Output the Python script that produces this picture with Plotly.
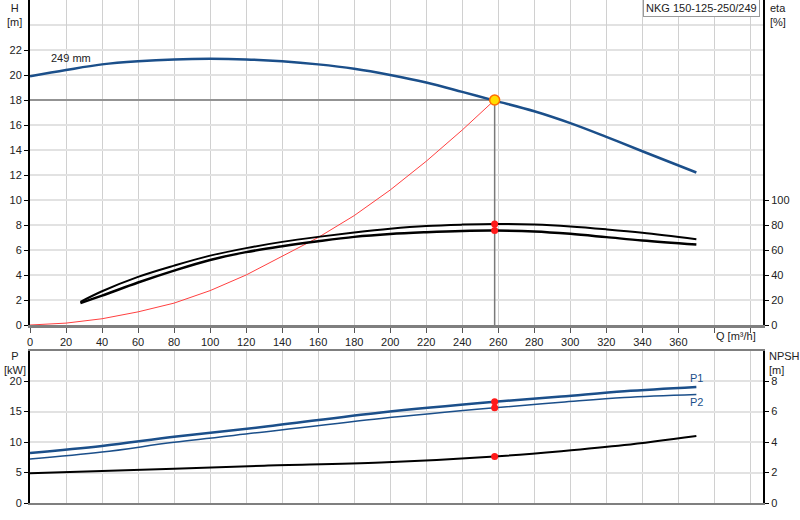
import plotly.graph_objects as go

# pump curve data
q_head = [0, 20, 40, 60, 80, 100, 120, 140, 160, 180, 200, 220, 240, 258, 280, 300, 320, 340, 370]
head = [19.9, 20.4, 20.85, 21.1, 21.25, 21.3, 21.25, 21.1, 20.85, 20.5, 20.0, 19.4, 18.65, 17.95, 17.1, 16.15, 15.05, 13.9, 12.2]

q_system = [0, 20, 40, 60, 80, 100, 120, 140, 160, 180, 200, 220, 240, 258]
h_system = [0, 0.15, 0.5, 1.05, 1.75, 2.75, 4.0, 5.5, 7.0, 8.75, 10.8, 13.1, 15.6, 18.0]

q_eta = [28, 40, 60, 80, 100, 120, 140, 160, 180, 200, 220, 240, 258, 280, 300, 320, 340, 370]
eta_upper = [18.5, 27, 38.5, 47.5, 55.5, 61.5, 66.5, 70.5, 74, 77, 79.2, 80.3, 80.8, 80.3, 78.8, 76.5, 73.8, 68.6]
eta_lower = [17.5, 23.5, 34, 43.5, 52, 58.3, 63, 67, 70.5, 72.8, 74.2, 75.2, 75.5, 74.8, 72.9, 70.3, 67.6, 64.3]

q_power = [0, 40, 80, 130, 195, 258, 295, 330, 370]
p1 = [8.2, 9.35, 10.85, 12.5, 14.85, 16.6, 17.45, 18.3, 19.0]
p2 = [7.2, 8.35, 9.95, 11.65, 13.85, 15.6, 16.5, 17.3, 17.8]
npsh = [1.95, 2.1, 2.25, 2.45, 2.65, 3.05, 3.4, 3.8, 4.4]

duty_q = 258
duty_h = 18.0
duty_eta = [80.8, 75.5]
duty_p = [16.6, 15.6]
duty_npsh = 3.05

x_ticks = list(range(0, 401, 20))
x_labels = [str(v) if v <= 360 else "" for v in x_ticks]

W, H = 800, 520
L, R, T, B = 30, 37, 0, 17
ph = H - T - B
pw = W - L - R


def px(x):
    return (x - L) / pw


def py(y):
    return (H - B - y) / ph


blue = "#1b4f8a"
font = "Liberation Sans, Arial, sans-serif"

fig = go.Figure()
fig.add_trace(go.Scatter(x=[0, duty_q, duty_q], y=[duty_h, duty_h, 0], mode="lines",
                         line=dict(color="#7a7a7a", width=1.5), xaxis="x", yaxis="y"))
fig.add_trace(go.Scatter(x=q_system, y=h_system, mode="lines",
                         line=dict(color="#ff4040", width=1), xaxis="x", yaxis="y"))
fig.add_trace(go.Scatter(x=q_head, y=head, mode="lines", line=dict(color=blue, width=2.5, shape="spline"),
                         xaxis="x", yaxis="y"))
fig.add_trace(go.Scatter(x=q_eta, y=eta_upper, mode="lines", line=dict(color="black", width=2, shape="spline"),
                         xaxis="x", yaxis="y2"))
fig.add_trace(go.Scatter(x=q_eta, y=eta_lower, mode="lines", line=dict(color="black", width=2.5, shape="spline"),
                         xaxis="x", yaxis="y2"))
fig.add_trace(go.Scatter(x=[duty_q, duty_q], y=duty_eta, mode="markers",
                         marker=dict(color="#ff1a1a", size=7), xaxis="x", yaxis="y2"))
fig.add_trace(go.Scatter(x=[duty_q], y=[duty_h], mode="markers",
                         marker=dict(color="#ffdd00", size=10, line=dict(color="#ff6a00", width=1.5)),
                         xaxis="x", yaxis="y"))

fig.add_trace(go.Scatter(x=q_power, y=p1, mode="lines", line=dict(color=blue, width=2.5, shape="spline"),
                         xaxis="x2", yaxis="y3"))
fig.add_trace(go.Scatter(x=q_power, y=p2, mode="lines", line=dict(color=blue, width=1.5, shape="spline"),
                         xaxis="x2", yaxis="y3"))
fig.add_trace(go.Scatter(x=q_power, y=npsh, mode="lines", line=dict(color="black", width=2, shape="spline"),
                         xaxis="x2", yaxis="y4"))
fig.add_trace(go.Scatter(x=[duty_q, duty_q], y=duty_p, mode="markers",
                         marker=dict(color="#ff1a1a", size=7), xaxis="x2", yaxis="y3"))
fig.add_trace(go.Scatter(x=[duty_q], y=[duty_npsh], mode="markers",
                         marker=dict(color="#ff1a1a", size=7), xaxis="x2", yaxis="y4"))

top = [py(325), 1]
bottom = [0, py(350.5)]
xgrid = dict(showgrid=True, gridcolor="#d0d0d0", gridwidth=1, zeroline=False, automargin=False)
yline = dict(ticks="outside", ticklen=4, tickcolor="black", showline=True, linecolor="black",
             linewidth=2, zeroline=False, automargin=False)

fig.update_layout(
    width=W, height=H, margin=dict(l=L, r=R, t=T, b=B),
    plot_bgcolor="white", paper_bgcolor="white", showlegend=False,
    font=dict(family=font, size=11, color="#222"),
    xaxis=dict(domain=[0, 1], range=[0, 407], anchor="y", tickvals=x_ticks, ticktext=x_labels,
               ticks="outside", ticklen=5, tickcolor="#555", showline=True, linecolor="#7f7f7f",
               linewidth=2.5, **xgrid),
    xaxis2=dict(domain=[0, 1], range=[0, 407], anchor="y3", tickvals=x_ticks, showticklabels=False,
                ticks="", showline=True, mirror=True, linecolor="#7f7f7f", linewidth=2, **xgrid),
    yaxis=dict(domain=top, range=[0, 26], tickvals=list(range(0, 23, 2)),
               showgrid=True, gridcolor="#e2e2e2", gridwidth=2,
               minor=dict(dtick=2, tick0=0, showgrid=True, gridcolor="#e2e2e2", gridwidth=2, ticks=""),
               **yline),
    yaxis2=dict(domain=top, range=[0, 260], overlaying="y", side="right", anchor="x",
                tickvals=list(range(0, 101, 20)), showgrid=False, **yline),
    yaxis3=dict(domain=bottom, range=[0, 25], anchor="x2", tickvals=list(range(0, 21, 5)),
                showgrid=True, gridcolor="#e2e2e2", gridwidth=2,
                minor=dict(dtick=5, tick0=0, showgrid=True, gridcolor="#e2e2e2", gridwidth=2, ticks=""),
                **yline),
    yaxis4=dict(domain=bottom, range=[0, 10], overlaying="y3", side="right", anchor="x2",
                tickvals=list(range(0, 9, 2)), showgrid=False, **yline),
)

labels = [
    ("H<br>[m]", 15, 0, "center"),
    ("eta<br>[%]", 768, 0, "left"),
    ("P<br>[kW]", 15, 348, "center"),
    ("NPSH<br>[m]", 767, 348, "left"),
]
for text, x, y, anchor in labels:
    fig.add_annotation(text=text, xref="paper", yref="paper", x=px(x), y=py(y), xanchor=anchor,
                       yanchor="top", showarrow=False, align=anchor, font=dict(size=11))

fig.add_annotation(text="Q [m³/h]", xref="paper", yref="paper", x=px(758), y=py(328), xanchor="right",
                   yanchor="top", showarrow=False, font=dict(size=11))
fig.add_annotation(text="249 mm", x=23, y=21.35, xref="x", yref="y", showarrow=False, font=dict(size=11))
fig.add_annotation(text="NKG 150-125-250/249", xref="paper", yref="paper", x=px(760), y=py(-1),
                   xanchor="right", yanchor="top", showarrow=False, bgcolor="white",
                   bordercolor="#9a9a9a", borderwidth=1, borderpad=2, font=dict(size=11))
fig.add_annotation(text="P1", x=370, y=p1[-1] + 1.5, xref="x2", yref="y3", showarrow=False,
                   font=dict(size=11, color=blue))
fig.add_annotation(text="P2", x=370, y=p2[-1] - 1.3, xref="x2", yref="y3", showarrow=False,
                   font=dict(size=11, color=blue))

# drop the default 8px page margin so the chart sits flush in the window
fig.write_html("out.html", config={"displayModeBar": False},
               post_script="document.body.style.margin = '0';")
